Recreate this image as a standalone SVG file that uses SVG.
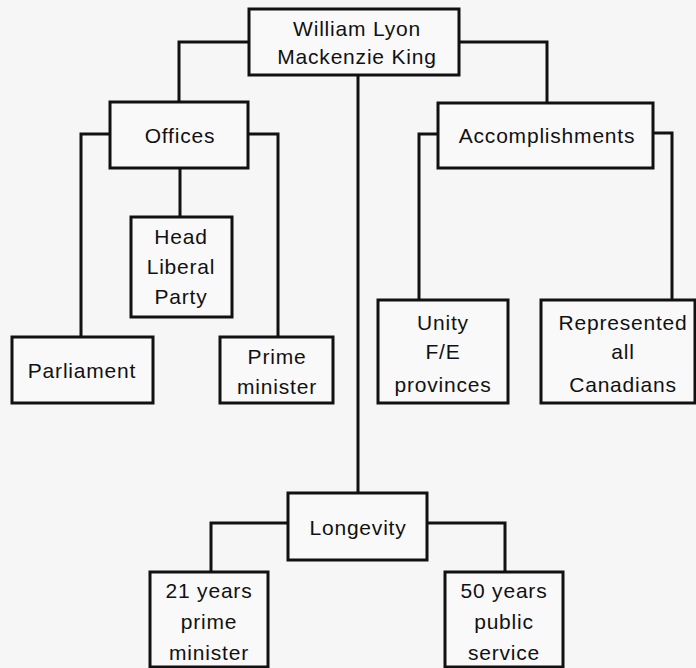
<svg xmlns="http://www.w3.org/2000/svg" width="696" height="668" viewBox="0 0 696 668">
<style>
.box{fill:#f9f9f9;stroke:#111;stroke-width:3}
.ln{fill:none;stroke:#111;stroke-width:3;stroke-linejoin:miter}
text{font-family:"Liberation Sans","Open Sans",sans-serif;font-size:21px;fill:#111;text-anchor:middle;letter-spacing:0.8px}
</style>
<rect width="696" height="668" fill="#f6f6f6"/>
<g id="connectors">
<path class="ln" d="M249 42 H179 V102"/>
<path class="ln" d="M459 42 H547 V102"/>
<path class="ln" d="M358 75 V493"/>
<path class="ln" d="M110 134 H81 V337"/>
<path class="ln" d="M180 168 V217"/>
<path class="ln" d="M248 134 H278 V337"/>
<path class="ln" d="M438 134 H419 V300"/>
<path class="ln" d="M653 133 H672 V300"/>
<path class="ln" d="M288 523 H211 V572"/>
<path class="ln" d="M427 523 H505 V572"/>
</g>
<g id="root">
<rect class="box" x="249" y="9" width="210" height="66"/>
<text x="357" y="36">William Lyon</text>
<text x="357" y="64">Mackenzie King</text>
</g>
<g id="offices">
<rect class="box" x="110" y="102" width="138" height="66"/>
<text x="180" y="143">Offices</text>
</g>
<g id="accomplishments">
<rect class="box" x="438" y="103" width="215" height="65"/>
<text x="547" y="143">Accomplishments</text>
</g>
<g id="head-liberal-party">
<rect class="box" x="131" y="217" width="101" height="100"/>
<text x="181" y="244">Head</text>
<text x="181" y="274">Liberal</text>
<text x="181" y="304">Party</text>
</g>
<g id="parliament">
<rect class="box" x="12" y="337" width="141" height="66"/>
<text x="82" y="378">Parliament</text>
</g>
<g id="prime-minister">
<rect class="box" x="220" y="337" width="113" height="66"/>
<text x="277" y="364">Prime</text>
<text x="277" y="394">minister</text>
</g>
<g id="unity">
<rect class="box" x="378" y="300" width="130" height="103"/>
<text x="443" y="330">Unity</text>
<text x="443" y="359">F/E</text>
<text x="443" y="392">provinces</text>
</g>
<g id="represented">
<rect class="box" x="541" y="300" width="154" height="103"/>
<text x="623" y="330">Represented</text>
<text x="623" y="359">all</text>
<text x="623" y="392">Canadians</text>
</g>
<g id="longevity">
<rect class="box" x="288" y="493" width="139" height="67"/>
<text x="358" y="535">Longevity</text>
</g>
<g id="years-prime-minister">
<rect class="box" x="150" y="572" width="118" height="95"/>
<text x="209" y="598">21 years</text>
<text x="209" y="629">prime</text>
<text x="209" y="660">minister</text>
</g>
<g id="years-public-service">
<rect class="box" x="445" y="572" width="118" height="95"/>
<text x="504" y="598">50 years</text>
<text x="504" y="629">public</text>
<text x="504" y="660">service</text>
</g>
</svg>
